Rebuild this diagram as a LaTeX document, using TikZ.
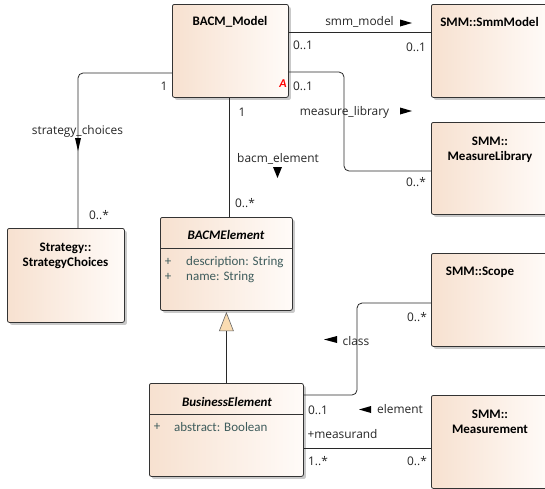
\documentclass[tikz,border=0pt]{standalone}
\usepackage{fontspec}
\setmainfont{Carlito}
\newfontfamily\lblfont{Open Sans}
\usetikzlibrary{shadows,arrows.meta}
\definecolor{peachL}{RGB}{247,225,208}
\definecolor{peachR}{RGB}{255,251,248}
\definecolor{attrc}{RGB}{62,92,92}
\definecolor{conn}{RGB}{40,40,40}
\definecolor{genfill}{RGB}{250,220,178}
\tikzset{
  umlbox/.style={draw=black!80, line width=0.8pt, rounded corners=2pt,
    left color=peachL, right color=peachR, anchor=north west, inner sep=0pt,
    drop shadow={shadow xshift=2.5pt, shadow yshift=-2.5pt, fill=black!35, opacity=0.6}},
  ttl/.style={font=\fontsize{13}{15}\selectfont\bfseries, align=center, inner sep=0pt},
  ttli/.style={font=\fontsize{13}{15}\selectfont\bfseries\itshape, inner sep=0pt},
  attr/.style={font=\fontsize{13}{15}\selectfont, text=attrc, inner sep=0pt},
  lbl/.style={font=\lblfont\fontsize{11.9}{13}\selectfont, text=black!85, inner sep=0pt},
  cn/.style={draw=conn, line width=0.8pt},
  tri/.style={fill=black}
}
\begin{document}
\begin{tikzpicture}[x=1pt,y=-1pt]
\clip (0,0) rectangle (545,488);
\fill[white] (0,0) rectangle (545,488);

% boxes
\node[umlbox, minimum width=116pt, minimum height=93pt] (bacm) at (172,4) {};
\node[umlbox, minimum width=117pt, minimum height=93pt] (smm) at (431,4) {};
\node[umlbox, minimum width=117pt, minimum height=92pt] (mlib) at (431,122) {};
\node[umlbox, minimum width=117pt, minimum height=94pt] (strat) at (7,228) {};
\node[umlbox, minimum width=132pt, minimum height=93pt] (bacmel) at (160,217) {};
\node[umlbox, minimum width=117pt, minimum height=93pt] (scope) at (431,253) {};
\node[umlbox, minimum width=154pt, minimum height=93pt] (busel) at (149,383) {};
\node[umlbox, minimum width=117pt, minimum height=93pt] (meas) at (431,395) {};

% dividers
\draw[draw=black!80, line width=0.8pt] ([yshift=-31pt]bacmel.north west) -- ([yshift=-31pt]bacmel.north east);
\draw[draw=black!80, line width=0.8pt] ([yshift=-31pt]busel.north west) -- ([yshift=-31pt]busel.north east);

% titles
\node[ttl] (tbacm) at (230,22) {BACM\_Model};
\node[ttl] (tsmm) at (489.5,22) {SMM::SmmModel};
\node[ttl] (tmlib) at (490,149.5) {SMM::\\MeasureLibrary};
\node[ttl] (tstrat) at (65.5,255.5) {Strategy::\\StrategyChoices};
\node[ttli] (tbacmel) at (226,235) {BACMElement};
\node[ttl] (tscope) at (480,272) {SMM::Scope};
\node[ttli] (tbusel) at (227,402) {BusinessElement};
\node[ttl] (tmeas) at (490,422) {SMM::\\Measurement};

% attributes
\node[attr] (p1) at (168,262) {+};
\node[attr, anchor=west] (a1) at (186,262) {description: String};
\node[attr] (p2) at (168,277) {+};
\node[attr, anchor=west] (a2) at (186,277) {name: String};
\node[attr] (p3) at (157,427) {+};
\node[attr, anchor=west] (a3) at (174,427) {abstract: Boolean};

% connectors
\draw[cn] ([yshift=-28pt]bacm.north east) -- ([yshift=-28pt]smm.north west);
\draw[cn, rounded corners=5pt] ([yshift=-68pt]bacm.north east) -| ([xshift=-87pt,yshift=-49pt]mlib.north west) -- ([yshift=-49pt]mlib.north west);
\draw[cn, rounded corners=5pt] ([yshift=-69pt]bacm.north west) -| ([xshift=71pt]strat.north west);
\draw[cn] ([xshift=-1pt]bacm.south) -- ([xshift=-1pt]bacm.south |- bacmel.north);
\draw[cn, rounded corners=5pt] ([yshift=-12pt]busel.north east) -| ([xshift=-74pt,yshift=-50pt]scope.north west) -- ([yshift=-50pt]scope.north west);
\draw[cn] ([yshift=-65pt]busel.north east) -- ([yshift=-53pt]meas.north west);
\draw[cn] (busel.north) -- ([yshift=-20pt]bacmel.south);
\draw[draw=black!60, fill=genfill, line width=0.6pt] ([yshift=-2pt]bacmel.south) -- ++(7,18) -- ++(-14,0) -- cycle;

% direction triangles
\fill[tri] (400,19.5) -- (412,23) -- (400,26.5) -- cycle;
\fill[tri] (400,107.5) -- (412,111) -- (400,114.5) -- cycle;
\fill[tri] (273,167) -- (282,167) -- (277.5,178) -- cycle;
\fill[tri] (75,138) -- (81,138) -- (78,151) -- cycle;
\fill[tri] (337,336) -- (324,339.5) -- (337,343) -- cycle;
\fill[tri] (371,406) -- (359,409.5) -- (371,413) -- cycle;

% labels
\node[lbl] (lsmm) at (359.5,22) {smm\_model};
\node[lbl] (m1) at (303,45) {0..1};
\node[lbl] (m2) at (416,47) {0..1};
\node[font=\fontsize{12}{14}\selectfont\bfseries\itshape, text=red, inner sep=0pt] (abs) at (283,84) {A};
\node[lbl] (m3) at (303,86) {0..1};
\node[lbl] (lml) at (344.5,112) {measure\_library};
\node[lbl] (m4) at (416,182) {0..*};
\node[lbl] (m5) at (164,86) {1};
\node[lbl] (lsc) at (77.5,131) {strategy\_choices};
\node[lbl] (m6) at (99,215) {0..*};
\node[lbl] (m7) at (242,112) {1};
\node[lbl] (lbe) at (278,159) {bacm\_element};
\node[lbl] (m8) at (245,203) {0..*};
\node[lbl] (m9) at (417,317) {0..*};
\node[lbl] (lcl) at (356,341) {class};
\node[lbl] (m10) at (318,410) {0..1};
\node[lbl] (lel) at (400,409) {element};
\node[lbl] (lmr) at (342.5,434) {+measurand};
\node[lbl] (m11) at (318,461) {1..*};
\node[lbl] (m12) at (417,461) {0..*};
\end{tikzpicture}
\end{document}
